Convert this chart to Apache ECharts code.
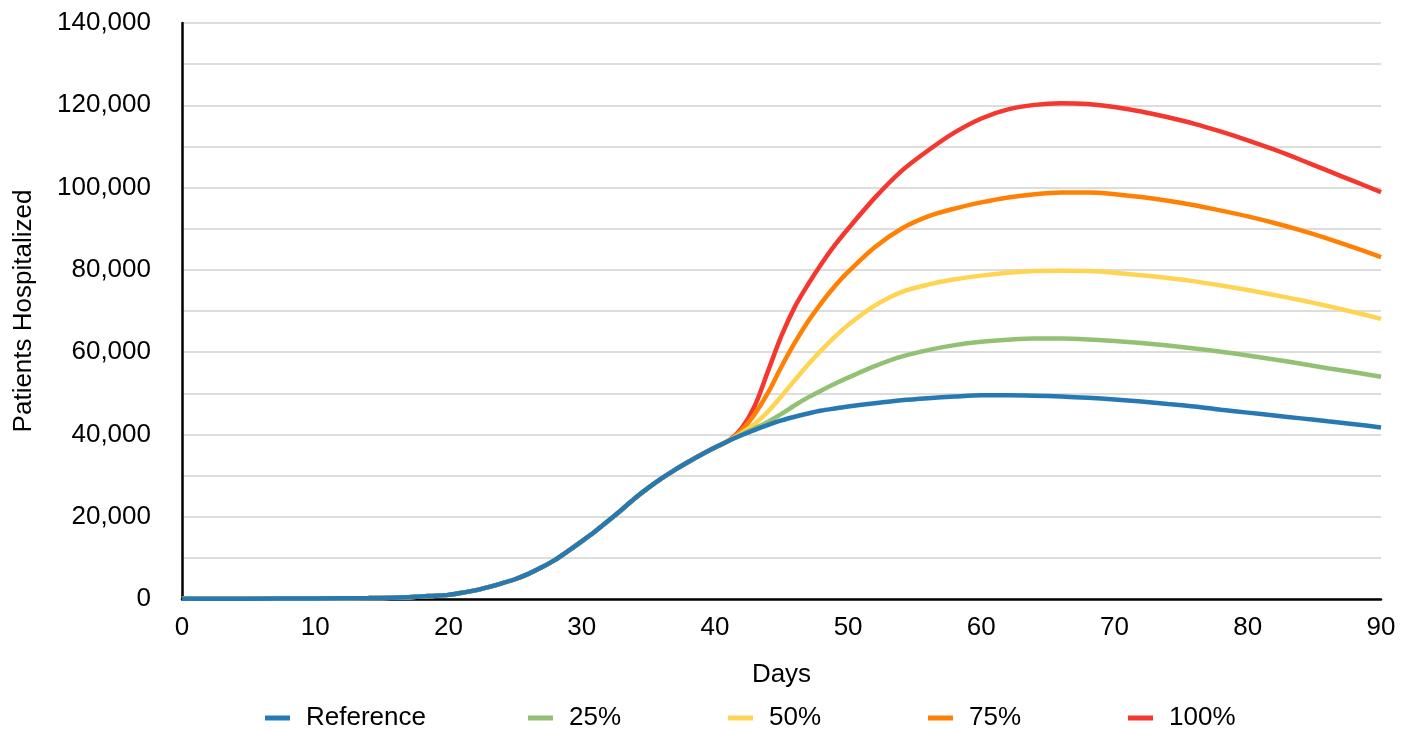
<!DOCTYPE html>
<html>
<head>
<meta charset="utf-8">
<script src="https://cdn.jsdelivr.net/npm/echarts@6/dist/echarts.min.js"></script>
<style>
html,body{margin:0;padding:0;background:#fff;}
#chart{width:1413px;height:730px;}
</style>
</head>
<body>
<div id="chart"></div>
<script>
// Shared early phase (identical for all scenarios), days 0..41
const earlyDays = [0,5,10,14,17,19,20,21,22,23,24,25,26,27,28,29,30,31,32,33,34,35,36,37,38,39,40,41];
const earlyValues = [50,80,150,250,450,800,1000,1500,2100,2900,3800,4800,6100,7700,9500,11700,14000,16400,19000,21700,24500,27000,29300,31400,33300,35100,36800,38400];

// Divergent phase, days 42..90
const lateDays = [42,43,44,45,46,47,48,49,50,52,54,56,58,60,62,64,66,68,70,72,74,76,78,80,82,84,86,88,90];
const referenceLate = [39800,41100,42300,43400,44300,45100,45800,46300,46800,47600,48300,48800,49200,49500,49500,49400,49200,48900,48500,48000,47400,46800,46000,45300,44600,43900,43200,42500,41700];
const p25Late = [40000,41500,43100,45000,47100,49000,50700,52300,53800,56600,58900,60500,61700,62500,63000,63300,63300,63100,62700,62200,61600,60900,60100,59200,58200,57200,56100,55100,54000];
const p50Late = [40300,42600,45600,49300,53200,57000,60500,63700,66600,71300,74600,76400,77700,78600,79300,79700,79800,79700,79300,78700,78000,77200,76200,75100,73900,72600,71200,69700,68100];
const p75Late = [41000,45000,50200,56500,62300,67500,72000,76000,79500,85500,90000,93000,94900,96400,97600,98400,98800,98800,98400,97700,96800,95700,94400,93000,91400,89600,87600,85400,83100];
const p100Late = [41500,47000,55500,64000,71000,76500,81500,86000,90000,97500,104000,109000,113400,116800,119000,120100,120500,120300,119600,118500,117100,115500,113600,111500,109200,106700,104100,101500,98900];

const seriesNames = ['Reference','25%','50%','75%','100%'];
const seriesLate = [referenceLate,p25Late,p50Late,p75Late,p100Late];
const colors = ['#2779b3','#93c174','#ffd452','#ff8003','#f4372f'];

const yTicks = {min:0, max:140000, step:10000, labelStep:20000};
const xTicks = {min:0, max:90, step:10};

const allDays = earlyDays.concat(lateDays);
function buildData(late){
  const vals = earlyValues.concat(late);
  return allDays.map((d,i)=>[d, vals[i]]);
}

const FONT = 'Liberation Sans, Arial, Helvetica, sans-serif';
const FS = 26;
const series = [];
for (let i = seriesNames.length - 1; i >= 0; i--) {
  series.push({
    name: seriesNames[i],
    type: 'line',
    data: buildData(seriesLate[i]),
    smooth: 0.3,
    showSymbol: false,
    symbol: 'none',
    lineStyle: {width: 4.5, color: colors[i]},
    itemStyle: {color: colors[i]},
    z: 10 - i,
    animation: false
  });
}

const legendLeft = [265, 528, 728, 928, 1128];
const legends = seriesNames.map((n, i) => ({
  data: [n],
  top: 705,
  left: legendLeft[i],
  itemWidth: 25,
  itemHeight: 5,
  icon: 'rect',
  padding: 0,
  textStyle: {fontFamily: FONT, fontSize: FS, color: '#000', padding: [0,0,0,11]}
}));

const chart = echarts.init(document.getElementById('chart'), null, {renderer:'canvas'});
chart.setOption({
  animation: false,
  backgroundColor: '#ffffff',
  grid: {left: 182, right: 32, top: 23, bottom: 131, containLabel: false, outerBoundsMode: 'none'},
  legend: legends,
  xAxis: {
    type: 'value',
    min: xTicks.min, max: xTicks.max, interval: xTicks.step,
    name: 'Days',
    nameLocation: 'middle',
    nameGap: 63,
    nameTextStyle: {fontFamily: FONT, fontSize: FS, color: '#000'},
    axisLine: {show: true, lineStyle: {color: '#000', width: 2.5}},
    axisTick: {show: false},
    axisLabel: {fontFamily: FONT, fontSize: FS, color: '#000', margin: 16},
    splitLine: {show: false}
  },
  yAxis: {
    type: 'value',
    min: yTicks.min, max: yTicks.max, interval: yTicks.step,
    name: 'Patients Hospitalized',
    nameLocation: 'middle',
    nameGap: 145,
    nameTextStyle: {fontFamily: FONT, fontSize: FS, color: '#000'},
    axisLine: {show: true, lineStyle: {color: '#000', width: 2.5}},
    axisTick: {show: false},
    axisLabel: {
      fontFamily: FONT, fontSize: FS, color: '#000', margin: 31,
      formatter: v => (v % yTicks.labelStep === 0) ? v.toLocaleString('en-US') : ''
    },
    splitLine: {show: true, lineStyle: {color: '#d2d2d2', width: 1.5}}
  },
  series: series
});
</script>
</body>
</html>
